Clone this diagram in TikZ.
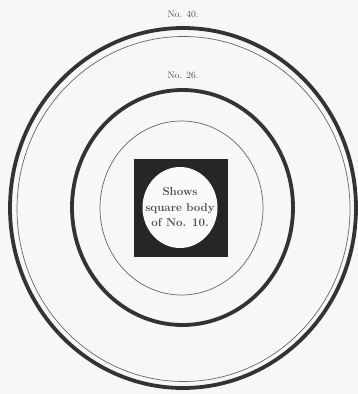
\documentclass[tikz,border=0pt]{standalone}
\begin{document}
\begin{tikzpicture}[x=1pt,y=-1pt,
  thickring/.style={draw=black!80,line width=3.8pt},
  thinring/.style={draw=black!60,line width=0.7pt},
  small/.style={font=\fontsize{9.5}{11}\selectfont,text=black!70},
  centertext/.style={font=\fontsize{11.5}{15.5}\selectfont\bfseries,text=black!70,align=center}]
\fill[black!3] (0,0) rectangle (358,394);
\useasboundingbox (0,0) rectangle (358,394);
% outer pair
\draw[thickring] (183,208) ellipse [x radius=173, y radius=180];
\draw[thinring] (183.5,209) ellipse [x radius=166.5, y radius=172.5];
% second
\draw[thickring] (182.5,207.5) ellipse [x radius=110.5, y radius=117.5];
\draw[thinring] (181.5,208) ellipse [x radius=81.5, y radius=87];
% square body
\fill[black!85] (134,159) rectangle (228,257);
\fill[black!2] (180,207.5) ellipse [x radius=37.5, y radius=40.5];
\node[small] (n40) at (183,14) {No. 40.};
\node[small] (n26) at (183,75) {No. 26.};
\node[centertext] (body) at (180,207.5) {Shows\\square body\\of No. 10.};
\end{tikzpicture}
\end{document}
